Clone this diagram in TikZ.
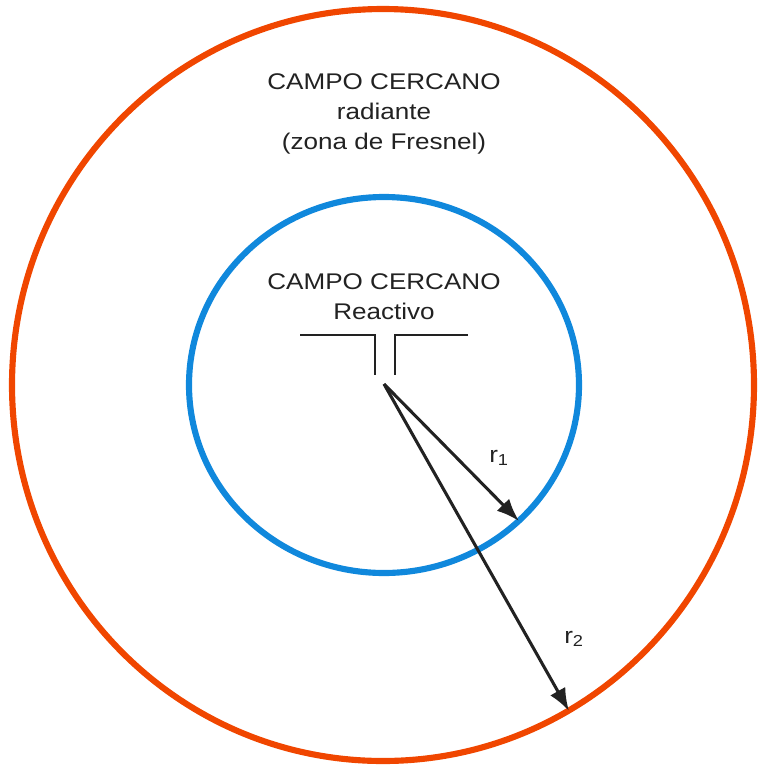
\documentclass[tikz,border=0pt]{standalone}
\usepackage{fontspec}
\setmainfont{Liberation Sans}[FakeStretch=1.15]
\usetikzlibrary{arrows.meta,positioning,calc}

\definecolor{fieldorange}{RGB}{240,70,0}
\definecolor{fieldblue}{RGB}{16,136,220}
\definecolor{inkgray}{RGB}{34,34,34}

\tikzset{
    zonering/.style={line width=4.6pt},
    zonelabel/.style={anchor=base, text=inkgray, font=\fontsize{17}{20}\selectfont},
    dipole/.style={inkgray, line width=1.5pt},
    radius/.style={inkgray, line width=2.3pt, -{Latex[length=17pt,width=13pt]}},
}

\begin{document}
\begin{tikzpicture}[x=0.75pt, y=-0.75pt]
    \useasboundingbox (0,0) rectangle (759,769);

    % Antenna feed point
    \coordinate (feed) at (384,384);

    % Zone boundaries
    \draw[zonering, fieldorange] (383,385) ellipse (371 and 376);
    \draw[zonering, fieldblue] (384,385) ellipse (195 and 188);

    % Zone labels
    \node[zonelabel] (farTitle) at (384,89) {CAMPO CERCANO};
    \node[zonelabel] (farSub) at (384,119) {radiante};
    \node[zonelabel] (farZone) at (384,149) {(zona de Fresnel)};
    \node[zonelabel] (nearTitle) at (384,289) {CAMPO CERCANO};
    \node[zonelabel] (nearSub) at (384,319) {Reactivo};

    % Dipole
    \coordinate (armL) at (300,335);
    \coordinate (armR) at (468,335);
    \draw[dipole] (armL) -- (375,335) -- (375,375);
    \draw[dipole] (armR) -- (395,335) -- (395,375);

    % Radii
    \coordinate (r1end) at (519,521);
    \coordinate (r2end) at (569,711);
    \draw[radius] (feed) -- (r1end);
    \draw[radius] (feed) -- (r2end);
    \node[zonelabel] (r1lbl) at (499,462) {r\textsubscript{1}};
    \node[zonelabel] (r2lbl) at (574,643) {r\textsubscript{2}};
\end{tikzpicture}
\end{document}
